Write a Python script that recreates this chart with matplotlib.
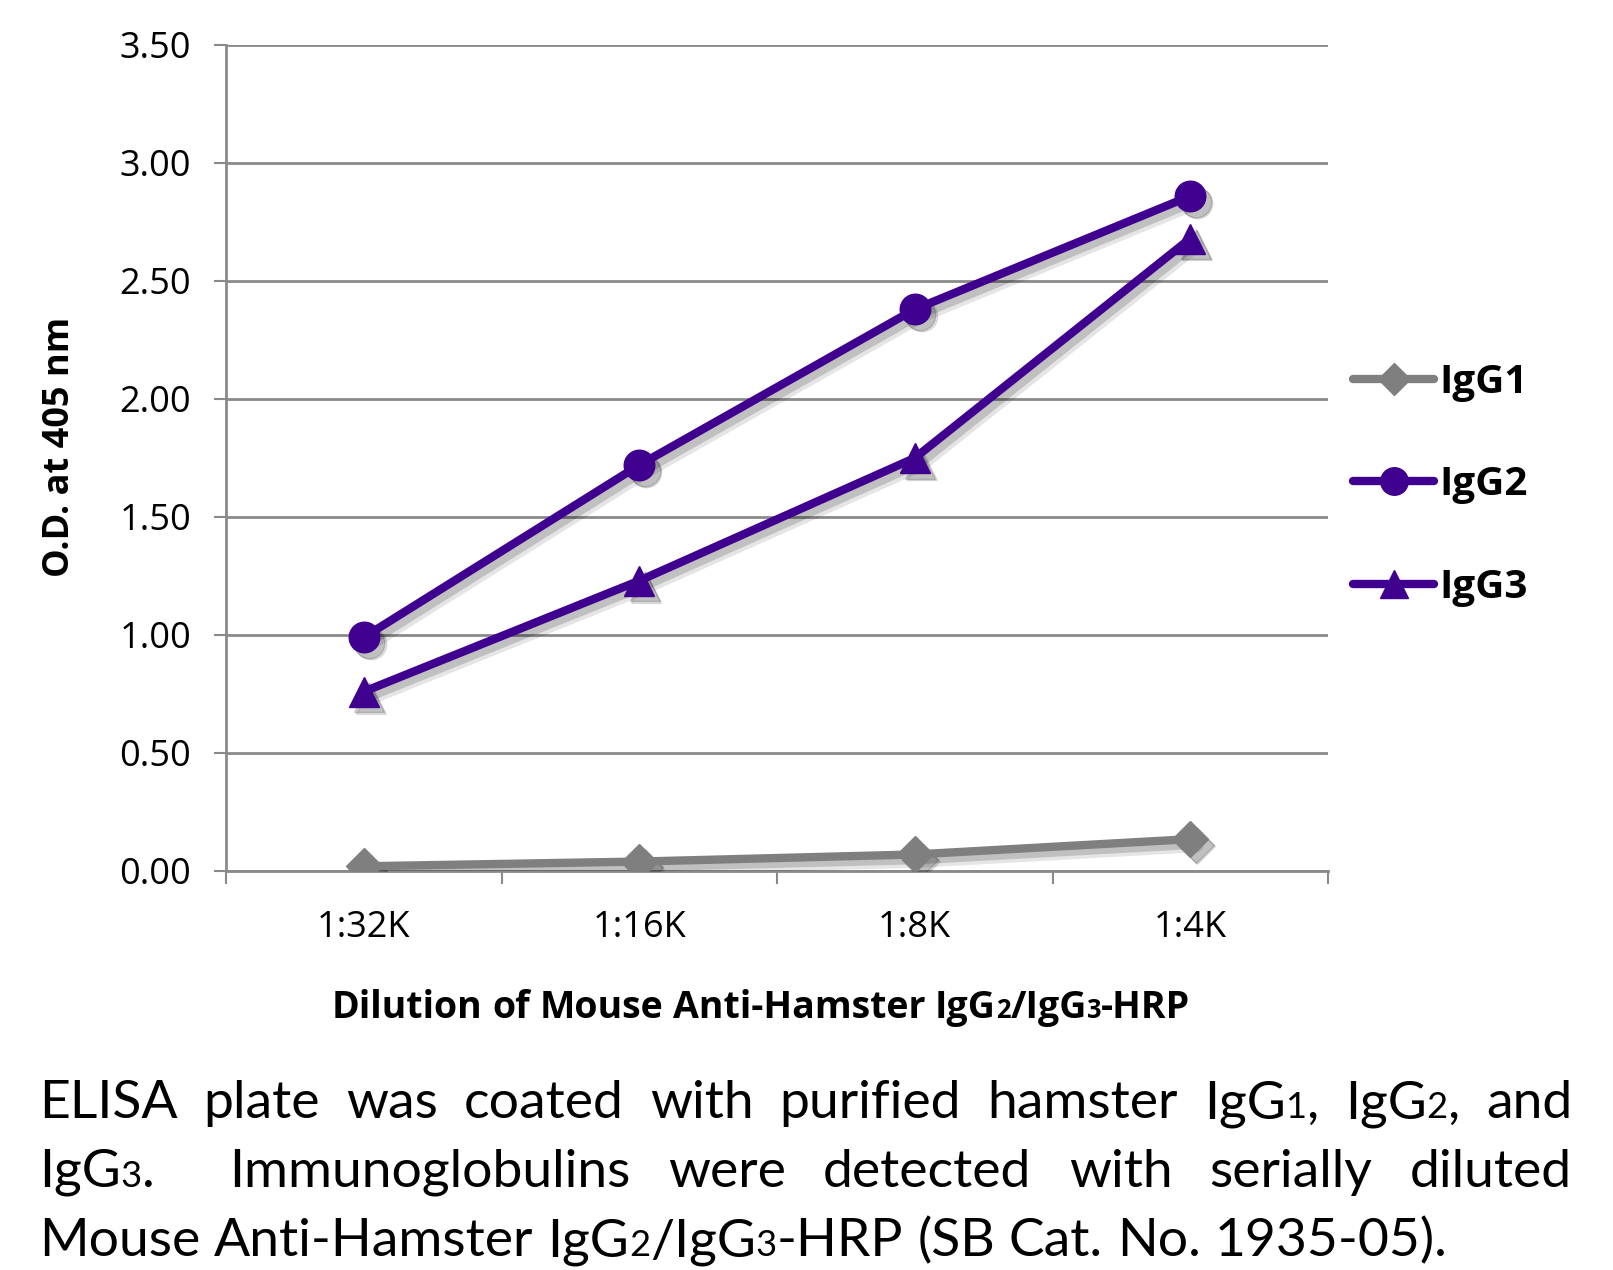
import matplotlib
matplotlib.use("Agg")
import matplotlib.pyplot as plt
from matplotlib.transforms import ScaledTranslation
from matplotlib.lines import Line2D

# ---------------- data ----------------
categories = ["1:32K", "1:16K", "1:8K", "1:4K"]
igg1 = [0.02, 0.04, 0.07, 0.135]
igg2 = [0.99, 1.72, 2.38, 2.86]
igg3 = [0.76, 1.23, 1.75, 2.68]
series_names = ["IgG1", "IgG2", "IgG3"]
yticks = [0.0, 0.5, 1.0, 1.5, 2.0, 2.5, 3.0, 3.5]

FONT = "Open Sans"
CAP_FONT = "Lato"
plt.rcParams['font.family'] = [FONT, 'DejaVu Sans']

W, H = 1613, 1270
fig = plt.figure(figsize=(W / 100, H / 100), dpi=100)
ax = fig.add_axes([226 / W, 1 - 871 / H, (1328 - 226) / W, (871 - 45) / H])

purple = "#40008f"
gray = "#7f7f7f"
grid_c = "#8a8a8a"

x = list(range(len(categories)))
styles = [
    (igg1, gray, "D", 18),
    (igg2, purple, "o", 22),
    (igg3, purple, "^", 22),
]

handles = []
for (vals, col, mk, ms), name in zip(styles, series_names):
    for off, a, lw in [(5, 0.10, 9), (4, 0.16, 6)]:
        sh = ax.transData + ScaledTranslation(off / 72, -off / 72, fig.dpi_scale_trans)
        ax.plot(x, vals, color="black", alpha=a, lw=lw, marker=mk, ms=ms,
                transform=sh, zorder=3, solid_capstyle="round")
    ax.plot(x, vals, color=col, lw=6, marker=mk, ms=ms, zorder=4,
            solid_capstyle="round")
    handles.append(Line2D([], [], color=col, lw=6, marker=mk, ms=ms * 0.9,
                          solid_capstyle="round"))

ax.set_xlim(-0.5, len(categories) - 0.5)
ax.set_ylim(0, 3.5)
ax.set_yticks(yticks)
ax.set_yticklabels([f"{v:.2f}" for v in yticks], fontsize=26)
ax.set_xticks(x)
ax.set_xticklabels(categories, fontsize=26)
ax.set_xticks([i - 0.5 for i in range(len(categories) + 1)], minor=True)
ax.tick_params(axis="x", which="major", length=0, pad=28)
ax.tick_params(axis="x", which="minor", length=9, width=1.5, color=grid_c)
ax.tick_params(axis="y", which="major", length=9, width=1.5, color=grid_c, pad=16)
ax.grid(axis="y", color=grid_c, lw=2)
ax.set_axisbelow(True)
for s in ["top", "right"]:
    ax.spines[s].set_visible(False)
for s in ["left", "bottom"]:
    ax.spines[s].set_color(grid_c)
    ax.spines[s].set_linewidth(2)

ax.set_ylabel("O.D. at 405 nm", fontsize=26, fontweight="bold")
ax.yaxis.set_label_coords((78 - 226) / (1328 - 226), 0.513)

leg = fig.legend(handles, series_names, loc="center left",
                 bbox_to_anchor=(1317 / W, 1 - 485 / H), frameon=False,
                 prop={"size": 29, "weight": "bold"}, handlelength=2.0,
                 handletextpad=0.15, labelspacing=1.58)

fig.canvas.draw()
renderer = fig.canvas.get_renderer()


def measure(s, size, weight, family):
    t = fig.text(0, 0, s, fontsize=size, fontweight=weight, family=family)
    w = t.get_window_extent(renderer).width if s else 0.0
    t.remove()
    return w


SMALL = 0.68


def piece_width(piece, size, weight, family):
    txt, small = piece
    return measure(txt, size * (SMALL if small else 1.0), weight, family)


def draw_pieces(pieces, xpx, ypx, size, weight, family):
    for txt, small in pieces:
        s = size * (SMALL if small else 1.0)
        fig.text(xpx / W, 1 - ypx / H, txt, fontsize=s, fontweight=weight,
                 family=family, va="baseline", ha="left")
        xpx += measure(txt, s, weight, family)
    return xpx


def word_pieces(word):
    # digits following "IgG" rendered as small figures
    out = []
    i = 0
    while i < len(word):
        j = word.find("IgG", i)
        if j < 0:
            out.append((word[i:], False))
            break
        out.append((word[i:j + 3], False))
        k = j + 3
        if k < len(word) and word[k].isdigit():
            out.append((word[k], True))
            k += 1
        i = k
    return [p for p in out if p[0]]


# x-axis title with small figures
xlabel = "Dilution of Mouse Anti-Hamster IgG2/IgG3-HRP"
xs = 27
fam = [FONT, 'DejaVu Sans']
sp = measure("a a", xs, "bold", fam) - measure("aa", xs, "bold", fam)
words = [word_pieces(wd) for wd in xlabel.split(" ")]
widths = [sum(piece_width(p, xs, "bold", fam) for p in wd) for wd in words]
total = sum(widths) + sp * (len(words) - 1)
cx = 761
xp = cx - total / 2
for wd, wdw in zip(words, widths):
    draw_pieces(wd, xp, 1018, xs, "bold", fam)
    xp += wdw + sp

# caption, justified
caption_lines = [
    "ELISA plate was coated with purified hamster IgG1, IgG2, and",
    "IgG3.  Immunoglobulins were detected with serially diluted",
    "Mouse Anti-Hamster IgG2/IgG3-HRP (SB Cat. No. 1935-05).",
]
cfam = [CAP_FONT, 'DejaVu Sans']
cs = 38.5
left, right = 39, 1572
baselines = [1118, 1187, 1256]
csp = measure("a a", cs, "normal", cfam) - measure("aa", cs, "normal", cfam)
for li, (line, by) in enumerate(zip(caption_lines, baselines)):
    tokens = line.split(" ")
    wl = [word_pieces(wd) for wd in tokens]
    ww = [sum(piece_width(p, cs, "normal", cfam) for p in wd) for wd in wl]
    if li < len(caption_lines) - 1:
        gap = (right - left - sum(ww)) / (len(wl) - 1)
    else:
        gap = csp
    xp = left
    for wd, wdw in zip(wl, ww):
        draw_pieces(wd, xp, by, cs, "normal", cfam)
        xp += wdw + gap

fig.savefig("out.png", dpi=100)
